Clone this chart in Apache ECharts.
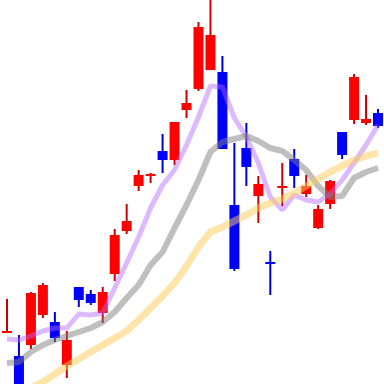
<!DOCTYPE html>
<html><head><meta charset="utf-8">
<script src="https://cdn.jsdelivr.net/npm/echarts@6/dist/echarts.min.js"></script>
<style>html,body{margin:0;padding:0;background:#fff}#c{width:384px;height:384px}</style>
</head><body><div id="c"></div>
<script>
// candle values: open, close, low, high
const openV  = [25.1,22.8,23.9,26.9,26.2,21.9,29.7,29.0,27.1,31.0,35.3,39.8,40.8,43.3,42.4,47.4,49.5,51.4,51.2,37.9,43.6,38.8,32.2,39.6,42.5,39.0,35.6,38.0,45.2,46.4,46.1,47.1];
const closeV = [25.3,19.8,29.1,29.9,24.6,24.4,28.4,28.1,29.2,34.9,36.3,40.9,41.0,42.4,46.2,48.1,55.7,54.9,43.5,31.5,41.7,40.0,32.1,39.8,40.8,39.8,37.5,40.3,42.9,50.7,46.5,45.8];
const lowV   = [25.1,19.6,23.5,26.6,24.2,20.6,27.7,27.9,26.1,30.3,35.0,39.3,40.1,41.1,41.9,46.6,49.3,51.4,43.5,31.3,39.8,36.1,28.9,37.8,39.6,38.7,35.5,37.5,42.5,46.0,45.9,45.6];
const highV  = [28.5,24.9,29.2,30.1,27.2,25.3,29.7,29.4,29.7,35.5,38.0,41.4,41.1,45.0,46.2,49.4,56.2,58.7,52.8,44.1,46.1,40.8,33.3,42.1,43.5,40.9,37.9,40.4,45.2,51.0,48.9,47.5];
const maShort = [24.5,24.4,24.8,25.3,25.6,25.6,27.0,26.9,27.1,29.6,32.1,34.7,37.6,39.9,41.4,43.9,46.7,49.8,49.7,46.6,44.7,42.1,38.7,37.4,38.9,38.4,38.2,39.0,40.4,42.1,43.9,45.9];
const maMid   = [22.1,22.2,23.2,23.9,24.4,24.8,25.2,25.6,26.2,27.2,28.6,29.9,31.9,33.2,35.6,37.9,40.4,43.2,44.2,44.5,44.8,44.3,43.6,43.3,42.4,41.4,39.8,38.7,38.8,40.6,41.2,41.6];
const maLong  = [18.4,19.0,19.6,20.2,21.0,21.8,22.5,23.2,23.9,24.6,25.3,26.4,27.6,28.8,30.1,31.8,33.7,35.2,35.7,36.3,36.9,37.6,38.1,38.5,39.1,39.8,40.5,41.2,41.8,42.4,42.8,43.1];
const categories = openV.map((_, i) => String(i + 1));

const candleData = openV.map((o, i) => [i, o, closeV[i], lowV[i], highV[i]]);

const chart = echarts.init(document.getElementById('c'), null, {renderer: 'canvas'});
chart.setOption({
  backgroundColor: '#ffffff',
  animation: false,
  grid: {left: 1, top: 0, width: 384, height: 384},
  xAxis: {type: 'category', data: categories, boundaryGap: true, show: false},
  yAxis: {type: 'value', min: 20, max: 58.4, show: false},
  series: [
    {
      type: 'custom',
      data: candleData,
      encode: {x: 0, y: [1, 2, 3, 4]},
      z: 1,
      renderItem: function (params, api) {
        const idx = api.value(0);
        const o = api.value(1), c = api.value(2), l = api.value(3), h = api.value(4);
        const x = api.coord([idx, o])[0];
        const yo = api.coord([idx, o])[1];
        const yc = api.coord([idx, c])[1];
        const yl = api.coord([idx, l])[1];
        const yh = api.coord([idx, h])[1];
        const bw = api.size([1, 0])[0] * 0.834;
        const up = c >= o;
        const body = up ? '#ff0000' : '#0000ff';
        const wick = up ? '#cc0000' : '#0000cc';
        const top = Math.min(yo, yc);
        const hgt = Math.max(Math.abs(yo - yc), 2);
        return {
          type: 'group',
          children: [
            {type: 'line', shape: {x1: x, y1: yh, x2: x, y2: yl}, style: {stroke: wick, lineWidth: 2}},
            {type: 'rect', shape: {x: x - bw / 2, y: top, width: bw, height: hgt}, style: {fill: body}}
          ]
        };
      }
    },
    {type: 'line', data: maShort, z: 3, symbol: 'none', lineStyle: {color: 'rgba(179,102,255,0.45)', width: 5}},
    {type: 'line', data: maMid, z: 3, symbol: 'none', lineStyle: {color: 'rgba(128,128,128,0.5)', width: 6}},
    {type: 'line', data: maLong, z: 3, symbol: 'none', lineStyle: {color: 'rgba(255,204,85,0.5)', width: 7}}
  ]
});
</script></body></html>
